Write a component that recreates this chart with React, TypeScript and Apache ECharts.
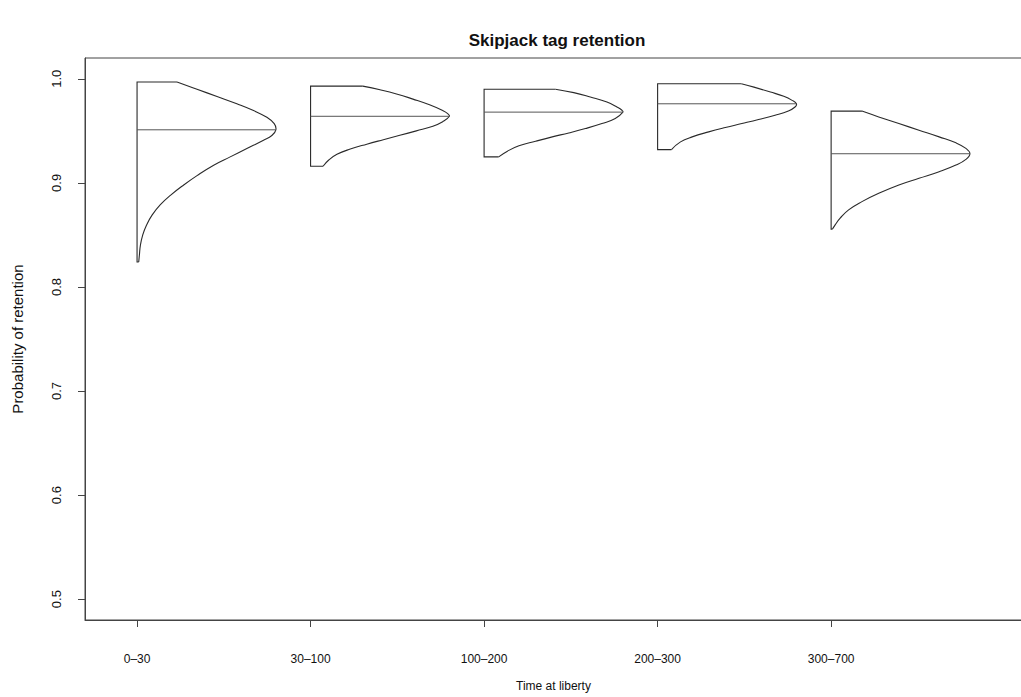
import React, { useEffect, useRef } from "react";
import * as echarts from "echarts";

const categories = ["0–30", "30–100", "100–200", "200–300", "300–700"];
const positions = [1, 2, 3, 4, 5];
const modeValues = [0.951, 0.964, 0.968, 0.976, 0.928];
const yTicks = [0.5, 0.6, 0.7, 0.8, 0.9, 1.0];

// [probability, relative density width] from top of each shape to its bottom
const profile0to30: [number, number][] = [
  [0.997, 0.288], [0.990, 0.432], [0.983, 0.576], [0.976, 0.719], [0.9695, 0.839],
  [0.963, 0.935], [0.957, 0.988], [0.951, 1.0], [0.9455, 0.971], [0.941, 0.911],
  [0.933, 0.791], [0.925, 0.671], [0.917, 0.552], [0.907, 0.432], [0.898, 0.336],
  [0.888, 0.240], [0.879, 0.168], [0.869, 0.108], [0.859, 0.067], [0.850, 0.041],
  [0.840, 0.024], [0.831, 0.017], [0.824, 0.012],
];
const profile30to100: [number, number][] = [
  [0.993, 0.376], [0.9895, 0.5], [0.9855, 0.619], [0.9805, 0.738], [0.975, 0.857],
  [0.9695, 0.952], [0.9665, 0.988], [0.964, 1.0], [0.9588, 0.952], [0.9545, 0.881],
  [0.950, 0.762], [0.9457, 0.643], [0.9415, 0.524], [0.9372, 0.405], [0.9325, 0.286],
  [0.9275, 0.190], [0.922, 0.131], [0.916, 0.09],
];
const profile100to200: [number, number][] = [
  [0.990, 0.514], [0.9867, 0.646], [0.9825, 0.765], [0.9777, 0.885], [0.9729, 0.957],
  [0.9698, 0.993], [0.968, 1.0], [0.9618, 0.945], [0.957, 0.849], [0.9522, 0.730],
  [0.948, 0.610], [0.9442, 0.491], [0.940, 0.371], [0.9356, 0.251], [0.9305, 0.168],
  [0.925, 0.105],
];
const profile200to300: [number, number][] = [
  [0.9953, 0.603], [0.992, 0.694], [0.9873, 0.813], [0.9832, 0.909], [0.9793, 0.969],
  [0.976, 1.0], [0.9729, 0.99], [0.9691, 0.942], [0.965, 0.846], [0.9609, 0.727],
  [0.957, 0.607], [0.9532, 0.488], [0.949, 0.368], [0.9442, 0.249], [0.9394, 0.165],
  [0.932, 0.10],
];
const profile300to700: [number, number][] = [
  [0.969, 0.222], [0.9634, 0.343], [0.957, 0.488], [0.9506, 0.633], [0.9442, 0.778],
  [0.9385, 0.899], [0.9331, 0.971], [0.928, 1.0], [0.9226, 0.971], [0.9171, 0.899],
  [0.9107, 0.778], [0.9044, 0.633], [0.898, 0.488], [0.890, 0.343], [0.882, 0.222],
  [0.8741, 0.126], [0.8661, 0.065], [0.8597, 0.029], [0.8556, 0.01],
];
const profiles = [profile0to30, profile30to100, profile100to200, profile200to300, profile300to700];

const FONT = "'Liberation Sans', Arial, Helvetica, sans-serif";

export default function App() {
  const ref = useRef<HTMLDivElement>(null);

  useEffect(() => {
    if (!ref.current) return;
    const chart = echarts.init(ref.current, null, { renderer: "svg" });
    const halfWidth = 0.8;

    const renderItem = (params: any, api: any) => {
      const i = params.dataIndex;
      const pos = positions[i];
      const prof = profiles[i];
      const top = prof[0];
      const bottom = prof[prof.length - 1];
      const curve = prof.map(([v, w]) => api.coord([pos + w * halfWidth, v]));
      const frame = [
        api.coord([pos + top[1] * halfWidth, top[0]]),
        api.coord([pos, top[0]]),
        api.coord([pos, bottom[0]]),
        api.coord([pos + bottom[1] * halfWidth, bottom[0]]),
      ];
      const m0 = api.coord([pos, modeValues[i]]);
      const m1 = api.coord([pos + halfWidth, modeValues[i]]);
      const stroke = { stroke: "#2a2a2a", lineWidth: 1.1, fill: "none" };
      return {
        type: "group",
        children: [
          { type: "polyline", shape: { points: frame }, style: stroke },
          { type: "polyline", shape: { points: curve, smooth: 0.45 }, style: stroke },
          {
            type: "line",
            shape: { x1: m0[0], y1: m0[1], x2: m1[0], y2: m1[1] },
            style: { stroke: "#555", lineWidth: 1 },
          },
        ],
      };
    };

    chart.setOption({
      animation: false,
      backgroundColor: "#fff",
      grid: {
        left: 85,
        top: 58,
        right: 8,
        bottom: 75,
        show: true,
        borderColor: "#444",
        borderWidth: 1,
        backgroundColor: "transparent",
      },
      graphic: [
        {
          type: "text",
          x: 557,
          y: 40,
          style: {
            text: "Skipjack tag retention",
            font: `bold 17px ${FONT}`,
            fill: "#111",
            align: "center",
            verticalAlign: "middle",
            textAlign: "center",
            textVerticalAlign: "middle",
          },
        },
      ],
      xAxis: {
        type: "value",
        min: 0.7,
        max: 6.1,
        name: "Time at liberty",
        nameLocation: "middle",
        nameGap: 60,
        nameTextStyle: { fontFamily: FONT, fontSize: 12, color: "#111" },
        axisLine: { show: true, onZero: false, lineStyle: { color: "#444" } },
        splitLine: { show: false },
        axisTick: { show: true, length: 7, customValues: positions, lineStyle: { color: "#444" } },
        axisLabel: {
          customValues: positions,
          margin: 33,
          fontFamily: FONT,
          fontSize: 12,
          color: "#111",
          formatter: (v: number) => categories[Math.round(v) - 1] ?? "",
        },
      },
      yAxis: {
        type: "value",
        min: 0.48,
        max: 1.02,
        name: "Probability of retention",
        nameLocation: "middle",
        nameGap: 60,
        nameTextStyle: { fontFamily: FONT, fontSize: 15, color: "#111" },
        axisLine: { show: true, onZero: false, lineStyle: { color: "#444" } },
        splitLine: { show: false },
        axisTick: { show: true, length: 7, customValues: yTicks, lineStyle: { color: "#444" } },
        axisLabel: {
          customValues: yTicks,
          rotate: 90,
          margin: 22,
          fontFamily: FONT,
          fontSize: 13,
          color: "#111",
          formatter: (v: number) => v.toFixed(1),
        },
      },
      series: [
        {
          type: "custom",
          silent: true,
          renderItem,
          data: positions.map((p, i) => [p, modeValues[i]]),
          clip: false,
        },
      ],
    });

    return () => chart.dispose();
  }, []);

  return (
    <div
      style={{
        position: "fixed",
        left: 0,
        top: 0,
        width: 1021,
        height: 697,
        overflow: "hidden",
        background: "#fff",
      }}
    >
      <div ref={ref} style={{ width: 1030, height: 697 }} />
    </div>
  );
}
